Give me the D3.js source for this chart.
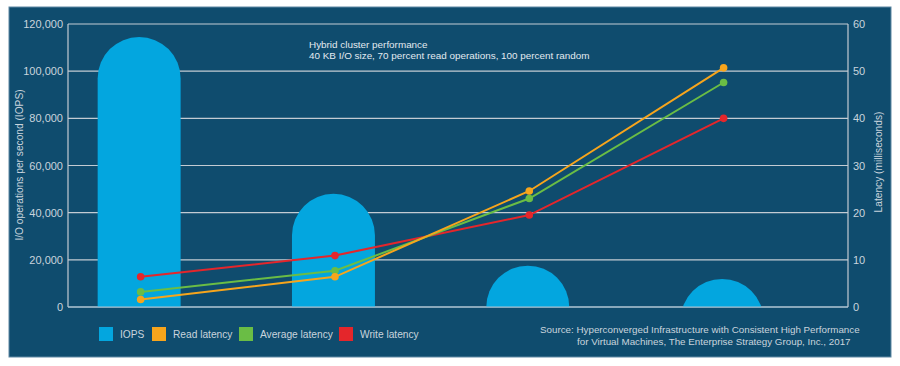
<!DOCTYPE html>
<html>
<head>
<meta charset="utf-8">
<script src="https://cdn.jsdelivr.net/npm/d3@7"></script>
<style>
  body { margin: 0; background: #fff; }
  svg { display: block; font-family: "Liberation Sans", Arial, sans-serif; }
</style>
</head>
<body>
<svg id="canvas" width="900" height="366"></svg>
<script>
// data
const categories = ["A", "B", "C", "D"];
const iops = [114500, 48000, 17500, 11900];
const readLatency = [1.6, 6.4, 24.6, 50.7];
const avgLatency = [3.2, 7.7, 23.0, 47.6];
const writeLatency = [6.4, 10.9, 19.5, 40.0];
const leftTicks = [0, 20000, 40000, 60000, 80000, 100000, 120000];
const rightTicks = [0, 10, 20, 30, 40, 50, 60];

const bg = "#0f4c6e";
const barColor = "#03a6df";
const textColor = "#c9d4dd";
const gridColor = "#c3cbd3";

const svg = d3.select("#canvas");

// panel
svg.append("rect")
  .attr("x", 9).attr("y", 7)
  .attr("width", 882).attr("height", 350)
  .attr("fill", bg)
  .attr("stroke", "#5f88a3").attr("stroke-width", 1);

const plot = { left: 68, right: 848, top: 24, bottom: 307 };

const x = d3.scaleBand()
  .domain(categories)
  .range([plot.left, plot.right])
  .paddingInner(0.573)
  .paddingOuter(0.2935)
  .align(0.26);

const yLeft = d3.scaleLinear().domain([0, 120000]).range([plot.bottom, plot.top]);
const yRight = d3.scaleLinear().domain([0, 60]).range([plot.bottom, plot.top]);

// gridlines
svg.append("g")
  .selectAll("line")
  .data(leftTicks)
  .enter()
  .append("line")
  .attr("x1", plot.left).attr("x2", plot.right)
  .attr("y1", d => yLeft(d)).attr("y2", d => yLeft(d))
  .attr("stroke", gridColor).attr("stroke-width", 1.2);

// bars with rounded tops, clipped at baseline
svg.append("clipPath").attr("id", "plotclip")
  .append("rect")
  .attr("x", plot.left).attr("y", 0)
  .attr("width", plot.right - plot.left).attr("height", plot.bottom);

const bw = x.bandwidth();
const r = bw / 2;
svg.append("g")
  .attr("clip-path", "url(#plotclip)")
  .selectAll("path")
  .data(iops)
  .enter()
  .append("path")
  .attr("fill", barColor)
  .attr("d", (d, i) => {
    const x0 = x(categories[i]);
    const top = yLeft(d);
    const cy = top + r;
    const bottom = Math.max(plot.bottom, cy);
    const p = d3.path();
    p.moveTo(x0, bottom);
    p.lineTo(x0, cy);
    p.arc(x0 + r, cy, r, Math.PI, 2 * Math.PI);
    p.lineTo(x0 + bw, bottom);
    p.closePath();
    return p.toString();
  });

// axes lines (left, right, baseline)
const axisG = svg.append("g").attr("stroke", gridColor).attr("stroke-width", 1.2);
axisG.append("line").attr("x1", plot.left).attr("x2", plot.left).attr("y1", plot.top).attr("y2", plot.bottom);
axisG.append("line").attr("x1", plot.right).attr("x2", plot.right).attr("y1", plot.top).attr("y2", plot.bottom);
axisG.append("line").attr("x1", plot.left).attr("x2", plot.right).attr("y1", plot.bottom).attr("y2", plot.bottom)
  .attr("stroke", "#a9c3d6");

// tick labels
const fmt = d3.format(",");
svg.append("g")
  .selectAll("text")
  .data(leftTicks)
  .enter()
  .append("text")
  .attr("x", plot.left - 5)
  .attr("y", d => yLeft(d) + 4)
  .attr("text-anchor", "end")
  .attr("font-size", 11)
  .attr("fill", textColor)
  .text(d => fmt(d));

svg.append("g")
  .selectAll("text")
  .data(rightTicks)
  .enter()
  .append("text")
  .attr("x", plot.right + 5)
  .attr("y", d => yRight(d) + 4)
  .attr("font-size", 11)
  .attr("fill", textColor)
  .text(d => d);

// axis titles
svg.append("text")
  .attr("transform", "translate(23,165) rotate(-90)")
  .attr("text-anchor", "middle")
  .attr("font-size", 10.2)
  .attr("fill", textColor)
  .text("I/O operations per second (IOPS)");

svg.append("text")
  .attr("transform", "translate(882,162) rotate(-90)")
  .attr("text-anchor", "middle")
  .attr("font-size", 10.2)
  .attr("fill", textColor)
  .text("Latency (milliseconds)");

// latency lines
const series = [
  { name: "Write latency", values: writeLatency, color: "#e4262b" },
  { name: "Average latency", values: avgLatency, color: "#6abd45" },
  { name: "Read latency", values: readLatency, color: "#f7a51c" }
];

const cx = i => x(categories[i]) + bw / 2 + 1.5;
const line = d3.line()
  .x((d, i) => cx(i))
  .y(d => yRight(d));

series.forEach(s => {
  svg.append("path")
    .datum(s.values)
    .attr("d", line)
    .attr("fill", "none")
    .attr("stroke", s.color)
    .attr("stroke-width", 2);
});
series.forEach(s => {
  svg.append("g")
    .selectAll("circle")
    .data(s.values)
    .enter()
    .append("circle")
    .attr("cx", (d, i) => cx(i))
    .attr("cy", d => yRight(d))
    .attr("r", 3.8)
    .attr("fill", s.color);
});

// chart note
const note = svg.append("text")
  .attr("font-size", 9.9)
  .attr("fill", "#e3eaf0");
note.append("tspan").attr("x", 309).attr("y", 48).text("Hybrid cluster performance");
note.append("tspan").attr("x", 309).attr("y", 59).text("40 KB I/O size, 70 percent read operations, 100 percent random");

// legend
const legendItems = [
  { name: "IOPS", color: barColor, x: 99 },
  { name: "Read latency", color: "#f7a51c", x: 152 },
  { name: "Average latency", color: "#6abd45", x: 239 },
  { name: "Write latency", color: "#e4262b", x: 339 }
];
const lg = svg.append("g")
  .selectAll("g")
  .data(legendItems)
  .enter()
  .append("g")
  .attr("transform", d => `translate(${d.x},327)`);
lg.append("rect").attr("width", 14).attr("height", 14).attr("fill", d => d.color);
lg.append("text")
  .attr("x", 21).attr("y", 11)
  .attr("font-size", 10.2)
  .attr("fill", textColor)
  .text(d => d.name);

// source
const src = svg.append("text")
  .attr("font-size", 9.8)
  .attr("fill", textColor);
src.append("tspan").attr("x", 540).attr("y", 333).text("Source: Hyperconverged Infrastructure with Consistent High Performance");
src.append("tspan").attr("x", 577).attr("y", 345).text("for Virtual Machines, The Enterprise Strategy Group, Inc., 2017");
</script>
</body>
</html>
